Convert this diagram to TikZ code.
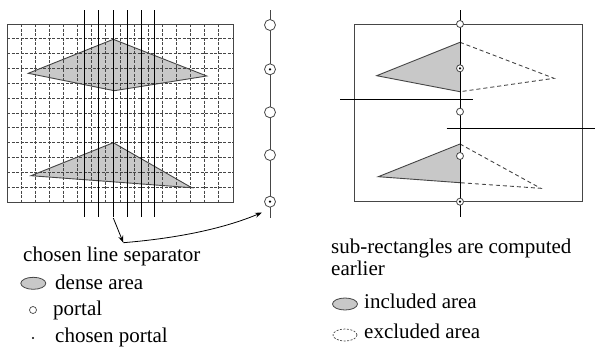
\documentclass[tikz,border=0pt]{standalone}
\usepackage{fontspec}
\newfontfamily\tnrfont{Liberation Serif}
\usetikzlibrary{arrows.meta,shapes.geometric}
\definecolor{areagray}{RGB}{200,200,200}
\definecolor{linegray}{RGB}{70,70,70}
\newcommand{\tnrbig}{\tnrfont\fontsize{21}{21}\selectfont}
\begin{document}
\begin{tikzpicture}[x=1pt,y=-1pt,
  gridline/.style={linegray,line width=0.8pt,dash pattern=on 3pt off 1.5pt},
  sepline/.style={black,line width=0.9pt},
  dashedge/.style={linegray,line width=0.9pt,dash pattern=on 4pt off 3pt},
  bigportal/.style={circle,draw=linegray,fill=white,line width=0.8pt,minimum size=11pt,inner sep=0pt},
  smallportal/.style={circle,draw=linegray,fill=white,line width=0.8pt,minimum size=7pt,inner sep=0pt},
  dotmark/.style={circle,fill=black,minimum size=2.5pt,inner sep=0pt},
  txtlbl/.style={anchor=base west,inner sep=0pt},
  arr/.style={-{Stealth[length=7pt,width=5pt]},line width=0.8pt,black}]
\useasboundingbox (0,0) rectangle (595,346);

% ---------- left panel ----------
\fill[areagray] (28.3,73.3) -- (113.3,39.3) -- (206.7,76) -- (114.3,90.7) -- cycle;
\fill[areagray] (113.3,142.7) -- (31,175.7) -- (191.7,187.7) -- cycle;
\foreach \i in {1,...,15} \draw[gridline] ({7+\i*226/16},24) -- ({7+\i*226/16},202);
\foreach \j in {1,...,11} \draw[gridline] (7,{24+\j*178/12}) -- (233,{24+\j*178/12});
\draw[linegray,line width=0.9pt] (7,24) rectangle (233,202);
\draw[linegray,line width=0.9pt] (28.3,73.3) -- (113.3,39.3) -- (206.7,76) -- (114.3,90.7) -- cycle;
\draw[linegray,line width=0.9pt] (113.3,142.7) -- (31,175.7) -- (191.7,187.7) -- cycle;
\foreach \x in {84.3,98.3,113.3,127.3,141.7,154.3} \draw[sepline] (\x,10) -- (\x,217);
\coordinate (sepend) at (113.3,218);

% portal line
\draw[linegray,line width=0.9pt] (270,10) -- (270,218);
\node[bigportal] (p1) at (270,25) {};
\node[bigportal] (p2) at (270,69.3) {};
\node[dotmark] at (p2) {};
\node[bigportal] (p3) at (270,112.3) {};
\node[bigportal] (p4) at (270,155) {};
\node[bigportal] (p5) at (270,201.7) {};
\node[dotmark] at (p5) {};

% arrows
\coordinate (bend) at (123.3,242.7);
\coordinate (ptarget) at (262,212.5);
\draw[arr] (sepend) -- (bend);
\draw[arr] (bend) .. controls (180,238) and (225,228) .. (ptarget);

% left legend
\node[txtlbl] (t1) at (23,261.5) {\tnrbig chosen line separator};
\node[ellipse,draw=linegray,fill=areagray,line width=0.8pt,minimum width=25pt,minimum height=12pt,inner sep=0pt] (e1) at (33.3,283.3) {};
\node[txtlbl] (t2) at (55,289) {\tnrbig dense area};
\node[circle,draw=linegray,line width=0.7pt,minimum size=7pt,inner sep=0pt] (c1) at (33,310) {};
\node[txtlbl] (t3) at (53,315) {\tnrbig portal};
\node[dotmark,minimum size=2.2pt] (d1) at (33,338) {};
\node[txtlbl] (t4) at (55,342) {\tnrbig chosen portal};

% ---------- right panel ----------
\fill[areagray] (376.7,75.7) -- (460,42.3) -- (460,91.7) -- cycle;
\draw[linegray,line width=0.9pt] (460,42.3) -- (376.7,75.7) -- (460,91.7);
\draw[dashedge] (460,42.3) -- (554,78.3) -- (460,91.7);
\fill[areagray] (378.3,176.7) -- (460,144) -- (460,182.7) -- cycle;
\draw[linegray,line width=0.9pt] (460,144) -- (378.3,176.7) -- (460,182.7);
\draw[dashedge] (460,144) -- (540.7,188.3) -- (460,182.7);
\draw[linegray,line width=0.9pt] (354,24) rectangle (582.3,201);
\draw[sepline] (460,10) -- (460,216.7);
\draw[sepline] (340,99) -- (472.7,99);
\draw[sepline] (446.7,128.3) -- (595,128.3);
\node[smallportal] (q1) at (460,24) {};
\node[smallportal] (q2) at (460,68.3) {};
\node[dotmark] at (q2) {};
\node[smallportal] (q3) at (460,111.7) {};
\node[smallportal] (q4) at (460,156) {};
\node[smallportal] (q5) at (460,201.7) {};
\node[dotmark] at (q5) {};

% right legend
\node[txtlbl] (r1) at (331,253.3) {\tnrbig sub-rectangles are computed};
\node[txtlbl] (r2) at (331,275) {\tnrbig earlier};
\node[ellipse,draw=linegray,fill=areagray,line width=0.8pt,minimum width=25pt,minimum height=12pt,inner sep=0pt] (e2) at (345,304) {};
\node[txtlbl] (r3) at (364,308) {\tnrbig included area};
\node[ellipse,draw=linegray,line width=0.7pt,dash pattern=on 2pt off 1.5pt,minimum width=24pt,minimum height=12pt,inner sep=0pt] (e3) at (345,335) {};
\node[txtlbl] (r4) at (364,338.5) {\tnrbig excluded area};
\end{tikzpicture}
\end{document}
